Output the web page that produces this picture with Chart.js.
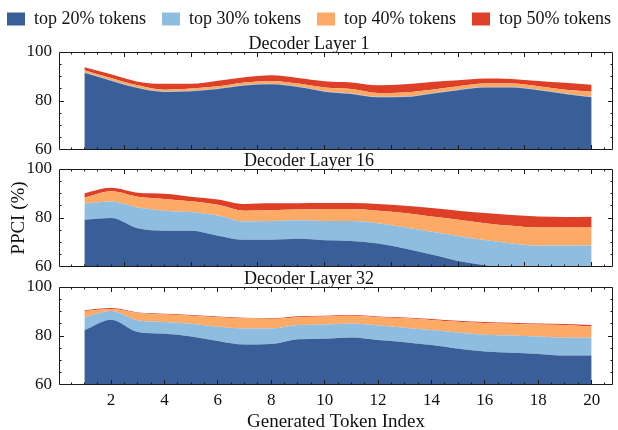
<!DOCTYPE html>
<html>
<head>
<meta charset="utf-8">
<script src="https://cdn.jsdelivr.net/npm/chart.js@4"></script>
<style>
  html, body { margin: 0; padding: 0; background: #fff; width: 618px; height: 430px; overflow: hidden; }
  #fig { position: relative; width: 618px; height: 430px; overflow: hidden; background: #fff; }
  .panel { position: absolute; left: -20px; width: 658px; }
</style>
</head>
<body>
<div id="fig">
  <div class="panel" style="top:-6px;height:174px"><canvas id="layer1"></canvas></div>
  <div class="panel" style="top:150px;height:135px"><canvas id="layer16"></canvas></div>
  <div class="panel" style="top:268px;height:164px"><canvas id="layer32"></canvas></div>
</div>
<script>
// Generated token positions (x) and axis ticks
const tokenIndex = [1, 2, 3, 4, 5, 6, 7, 8, 9, 10, 11, 12, 13, 14, 15, 16, 17, 18, 19, 20];
const xTickLabels = [2, 4, 6, 8, 10, 12, 14, 16, 18, 20];
const upperXMajor = [2.5, 5, 7.5, 10, 12.5, 15, 17.5, 20];
const yTickValues = [60, 80, 100];

const seriesLabels = ['top 20% tokens', 'top 30% tokens', 'top 40% tokens', 'top 50% tokens'];
const seriesColors = ['#3a5e98', '#8fbde0', '#fdaa67', '#dd4027'];

// PPCI (%) per decoder layer, one array per token budget
const layer1Top20 = [91.5, 88.3, 85.3, 83.7, 84.0, 84.9, 86.3, 86.8, 85.7, 83.8, 82.9, 81.5, 81.6, 83.0, 84.4, 85.5, 85.5, 84.4, 82.9, 81.5];
const layer1Top30 = [91.7, 88.5, 85.5, 83.9, 84.2, 85.1, 86.5, 87.0, 85.9, 84.0, 83.1, 81.7, 81.8, 83.2, 84.6, 85.7, 85.7, 84.6, 83.1, 81.7];
const layer1Top40 = [92.6, 89.4, 86.4, 84.6, 85.1, 86.0, 87.6, 88.2, 87.1, 85.5, 84.9, 83.3, 83.5, 84.6, 86.0, 87.1, 87.1, 86.0, 84.6, 83.8];
const layer1Top50 = [93.8, 90.9, 87.9, 87.0, 87.0, 88.3, 89.7, 90.5, 89.4, 88.1, 87.6, 86.4, 86.8, 87.8, 88.5, 89.2, 89.0, 88.2, 87.4, 86.6];

const layer16Top20 = [79.3, 80.0, 75.8, 74.8, 74.8, 72.8, 71.1, 71.1, 71.5, 70.9, 70.6, 69.6, 67.6, 65.1, 62.5, 60.7, 59.2, 58.6, 58.2, 58.0];
const layer16Top30 = [85.9, 86.7, 84.3, 83.0, 82.4, 81.0, 78.6, 78.8, 79.1, 78.8, 78.8, 77.9, 76.2, 74.4, 72.7, 71.0, 69.6, 68.7, 68.8, 68.8];
const layer16Top40 = [88.3, 90.9, 88.7, 87.8, 86.8, 85.4, 83.0, 83.2, 83.5, 83.7, 83.7, 83.0, 82.0, 80.6, 79.3, 77.9, 76.8, 76.1, 76.1, 76.1];
const layer16Top50 = [90.1, 92.3, 90.3, 89.9, 88.7, 87.6, 85.7, 86.0, 86.0, 86.1, 86.1, 85.7, 85.0, 84.1, 83.0, 82.0, 81.2, 80.6, 80.4, 80.5];

const layer32Top20 = [82.3, 86.6, 81.6, 80.9, 79.8, 78.0, 76.5, 76.7, 78.7, 78.9, 79.4, 78.4, 77.5, 76.3, 74.8, 73.7, 73.2, 72.7, 72.0, 72.0];
const layer32Top30 = [87.6, 90.2, 86.4, 85.7, 85.0, 83.8, 83.1, 83.1, 84.5, 84.7, 85.1, 84.3, 83.4, 82.4, 81.4, 80.5, 80.2, 79.8, 79.3, 79.3];
const layer32Top40 = [90.2, 91.0, 89.4, 88.8, 88.3, 87.7, 87.2, 87.0, 87.7, 88.0, 88.3, 87.7, 87.2, 86.5, 85.8, 85.3, 85.0, 84.7, 84.5, 83.9];
const layer32Top50 = [90.5, 91.4, 89.6, 89.1, 88.6, 88.0, 87.5, 87.3, 88.1, 88.3, 88.6, 88.0, 87.6, 86.9, 86.2, 85.7, 85.4, 85.1, 84.9, 84.5];

const SERIF = "'Liberation Serif', 'Times New Roman', serif";
Chart.defaults.font.family = SERIF;
Chart.defaults.color = '#111';

// Boxed frame with inward major/minor ticks on all four sides
const frameTicks = {
  id: 'frameTicks',
  afterDatasetsDraw(chart, args, opts) {
    const { ctx, chartArea: a, scales } = chart;
    const xs = scales.x, ys = scales.y;
    const snap = v => Math.round(v - 0.5) + 0.5;
    const L = a.left + 0.5, R = a.right - 0.5, T = a.top + 0.5, B = a.bottom - 0.5;
    ctx.save();
    ctx.strokeStyle = '#1a1a1a';
    ctx.lineWidth = 1;
    ctx.beginPath();
    const xTick = (v, len) => {
      const p = snap(xs.getPixelForValue(v));
      ctx.moveTo(p, B); ctx.lineTo(p, B - len);
      ctx.moveTo(p, T); ctx.lineTo(p, T + len);
    };
    const yTick = (v, len) => {
      const p = snap(ys.getPixelForValue(v));
      ctx.moveTo(L, p); ctx.lineTo(L + len, p);
      ctx.moveTo(R, p); ctx.lineTo(R - len, p);
    };
    for (let v = 0.5; v < xs.max; v += 0.5) {
      if (v < xs.min) continue;
      xTick(v, opts.xMajor.includes(v) ? 4.5 : 2);
    }
    for (let v = ys.min + 5; v < ys.max; v += 5) {
      yTick(v, yTickValues.includes(v) ? 4.5 : 2);
    }
    ctx.rect(L, T, R - L, B - T);
    ctx.stroke();
    ctx.restore();
  }
};

function bands(series) {
  return series.map((vals, k) => ({
    label: seriesLabels[k],
    data: vals.map((v, i) => ({ x: tokenIndex[i], y: v })),
    backgroundColor: seriesColors[k],
    borderColor: 'rgba(0,0,0,0)',
    borderWidth: 0,
    pointRadius: 0,
    pointHoverRadius: 0,
    fill: k === 0 ? 'start' : '-1',
    cubicInterpolationMode: 'monotone'
  }));
}

function makePanel(id, cfg) {
  const isBottom = !!cfg.bottom;
  new Chart(document.getElementById(id), {
    type: 'line',
    data: { datasets: bands(cfg.series) },
    plugins: [frameTicks],
    options: {
      responsive: true,
      maintainAspectRatio: false,
      animation: false,
      events: [],
      layout: { padding: 0 },
      plugins: {
        tooltip: { enabled: false },
        legend: {
          display: !!cfg.legend,
          position: 'top',
          weight: 3000,
          labels: {
            boxWidth: 18,
            boxHeight: 13,
            padding: 16,
            color: '#111',
            font: { family: SERIF, size: 18 }
          }
        },
        title: {
          display: true,
          text: cfg.title,
          color: '#111',
          font: { family: SERIF, size: 18, weight: 'normal', lineHeight: '16px' },
          padding: { top: cfg.legend ? -2 : 3, bottom: 0 }
        },
        frameTicks: { xMajor: isBottom ? xTickLabels : upperXMajor }
      },
      scales: {
        x: {
          type: 'linear',
          position: 'bottom',
          min: 0.05,
          max: 20.8,
          grid: { display: false, drawTicks: false },
          border: { display: false },
          afterBuildTicks: axis => { axis.ticks = xTickLabels.map(v => ({ value: v })); },
          ticks: {
            display: isBottom,
            autoSkip: false,
            maxRotation: 0,
            padding: 5,
            color: '#111',
            font: { family: SERIF, size: 17 }
          },
          title: {
            display: isBottom,
            text: 'Generated Token Index',
            color: '#111',
            font: { family: SERIF, size: 19, lineHeight: '19px' },
            padding: { top: 0, bottom: 0 }
          },
          afterFit: s => { s.height = isBottom ? 47 : 18; }
        },
        y: {
          type: 'linear',
          position: 'left',
          min: 60,
          max: 100,
          grid: { display: false, drawTicks: false },
          border: { display: false },
          afterBuildTicks: axis => { axis.ticks = yTickValues.map(v => ({ value: v })); },
          ticks: {
            padding: 7,
            color: '#111',
            font: { family: SERIF, size: 17 }
          },
          title: {
            display: !!cfg.yTitle,
            text: 'PPCI (%)',
            color: '#111',
            font: { family: SERIF, size: 19, lineHeight: '19px' },
            padding: { top: 29.5, bottom: 0 }
          },
          afterFit: s => { s.width = 79; }
        },
        yRight: {
          type: 'linear',
          position: 'right',
          display: true,
          grid: { display: false, drawTicks: false },
          border: { display: false },
          ticks: { display: false },
          afterFit: s => { s.width = 25; }
        }
      }
    }
  });
}

makePanel('layer1', {
  title: 'Decoder Layer 1',
  legend: true,
  series: [layer1Top20, layer1Top30, layer1Top40, layer1Top50]
});
makePanel('layer16', {
  title: 'Decoder Layer 16',
  yTitle: true,
  series: [layer16Top20, layer16Top30, layer16Top40, layer16Top50]
});
makePanel('layer32', {
  title: 'Decoder Layer 32',
  bottom: true,
  series: [layer32Top20, layer32Top30, layer32Top40, layer32Top50]
});
</script>
</body>
</html>
